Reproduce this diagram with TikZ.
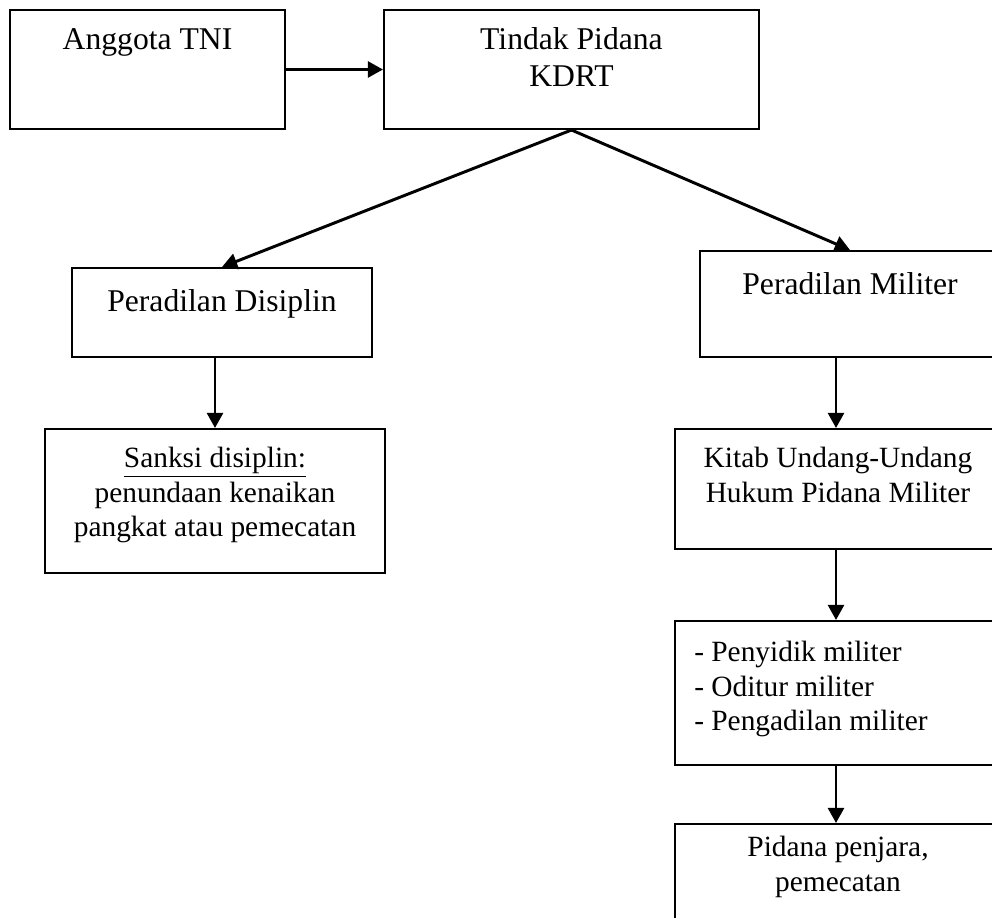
\documentclass[tikz,border=0pt]{standalone}
\usepackage{fontspec}
\setmainfont{Liberation Serif}
\usetikzlibrary{arrows.meta}

\begin{document}
\begin{tikzpicture}[x=0.025cm,y=-0.025cm,
  box/.style={draw, line width=1.4pt, inner sep=0pt},
  txt/.style={anchor=north, inner sep=0pt, align=center, font=\fontsize{22.5}{26.3}\selectfont},
  smalltxt/.style={txt, font=\fontsize{20.9}{24.6}\selectfont},
  flow/.style={line width=2.1pt, -{Triangle[length=3.8mm,width=4mm]}}]
  \useasboundingbox (0,0) rectangle (992,917);
  \clip (0,0) rectangle (992,917);
  % boxes
  \node[box, minimum width=6.875cm, minimum height=2.975cm] (anggota) at (147.5,69.5) {};
  \node[box, minimum width=9.375cm, minimum height=2.975cm] (kdrt) at (571.5,69.5) {};
  \node[box, minimum width=7.5cm, minimum height=2.225cm] (disiplin) at (222,312.5) {};
  \node[box, minimum width=7.5cm, minimum height=2.65cm] (militer) at (850,304) {};
  \node[box, minimum width=8.5cm, minimum height=3.6cm] (sanksi) at (215,501) {};
  \node[box, minimum width=8.05cm, minimum height=3.0cm] (kitab) at (836,489) {};
  \node[box, minimum width=8.05cm, minimum height=3.6cm] (penyidik) at (836,693) {};
  \node[box, minimum width=8.05cm, minimum height=2.65cm] (pidana) at (836,877) {};
  % texts
  \node[txt] (anggota-t) at ([yshift=-0.475cm]anggota.north) {Anggota TNI};
  \node[txt] (kdrt-t) at ([yshift=-0.45cm]kdrt.north) {Tindak Pidana\\KDRT};
  \node[txt] (disiplin-t) at ([yshift=-0.55cm]disiplin.north) {Peradilan Disiplin};
  \node[txt] (militer-t) at ([yshift=-0.55cm]militer.north) {Peradilan Militer};
  \node[smalltxt] (sanksi-t) at ([yshift=-0.475cm]sanksi.north) {\underline{Sanksi disiplin:}\\penundaan kenaikan\\pangkat atau pemecatan};
  \node[smalltxt] (kitab-t) at ([xshift=0.05cm,yshift=-0.475cm]kitab.north) {Kitab Undang-Undang\\Hukum Pidana Militer};
  \node[smalltxt, anchor=north west, align=left] (penyidik-t) at ([xshift=0.5cm,yshift=-0.525cm]penyidik.north west) {- Penyidik militer\\- Oditur militer\\- Pengadilan militer};
  \node[smalltxt] (pidana-t) at ([xshift=0.05cm,yshift=-0.325cm]pidana.north) {Pidana penjara,\\pemecatan};
  % arrows
  \draw[flow] (anggota.east) -- (kdrt.west);
  \draw[flow] (kdrt.south) -- (disiplin.north);
  \draw[flow] (kdrt.south) -- (militer.north);
  \draw[flow] (disiplin.south -| sanksi.north) -- (sanksi.north);
  \draw[flow] (militer.south -| kitab.north) -- (kitab.north);
  \draw[flow] (kitab.south) -- (penyidik.north);
  \draw[flow] (penyidik.south) -- (pidana.north);
\end{tikzpicture}
\end{document}
